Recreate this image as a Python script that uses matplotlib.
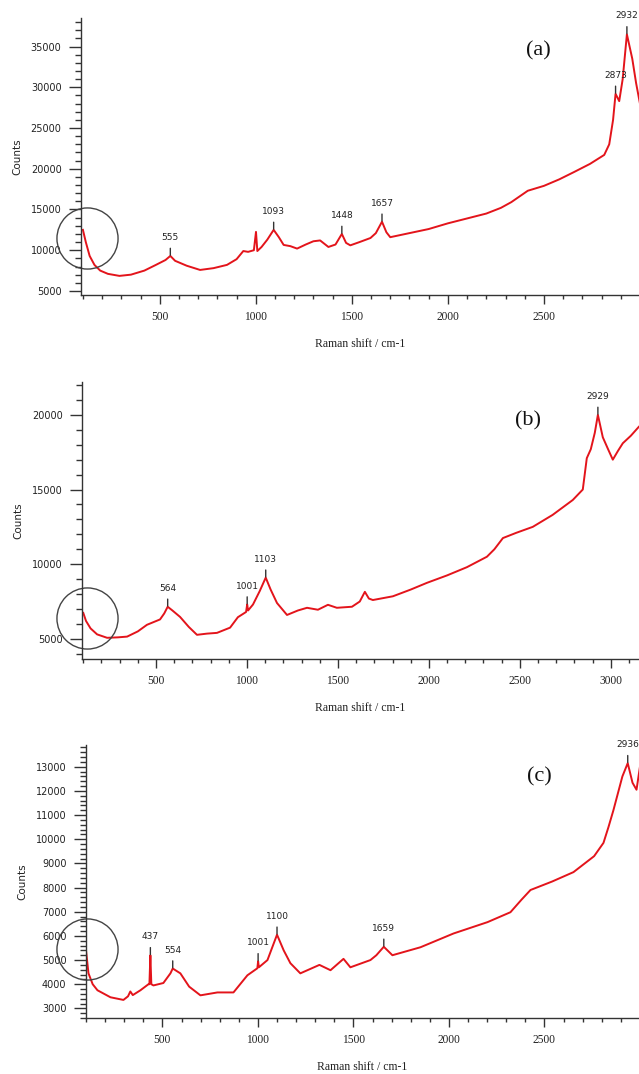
import numpy as np
import matplotlib
matplotlib.use("Agg")
import matplotlib.pyplot as plt
from matplotlib.ticker import MultipleLocator

# spectrum (a)
a_shift = [100, 115, 135, 160, 190, 230, 290, 350, 420, 480, 530, 555, 580, 640, 710,
           780, 850, 900, 935, 960, 990, 1001, 1008, 1030, 1060, 1093, 1120, 1145, 1180,
           1215, 1260, 1300, 1335, 1378, 1415, 1448, 1470, 1492, 1540, 1597, 1625, 1657,
           1680, 1700, 1800, 1900, 2000, 2100, 2200, 2276, 2330, 2416, 2500, 2580, 2657,
           2740, 2814, 2840, 2860, 2873, 2892, 2910, 2932, 2960, 2980, 3000]
a_counts = [12500, 11000, 9300, 8200, 7500, 7100, 6850, 7000, 7500, 8200, 8800, 9300, 8700,
            8100, 7580, 7800, 8200, 8900, 9900, 9800, 10000, 12250, 9900, 10400, 11300, 12500,
            11600, 10650, 10500, 10200, 10700, 11100, 11200, 10400, 10700, 12000, 10900, 10600,
            11000, 11500, 12100, 13500, 12200, 11600, 12100, 12600, 13300, 13900, 14500, 15200,
            15900, 17300, 17900, 18700, 19600, 20600, 21700, 23000, 26000, 29200, 28300, 31000,
            36500, 33500, 30500, 28000]
a_peaks = [555, 1093, 1448, 1657, 2873, 2932]

# spectrum (b)
b_shift = [100, 115, 140, 176, 231, 290, 341, 400, 450, 522, 545, 564, 590, 632, 680, 725,
           780, 835, 907, 950, 995, 1001, 1006, 1033, 1070, 1103, 1130, 1165, 1220, 1280,
           1330, 1390, 1445, 1494, 1577, 1620, 1648, 1670, 1692, 1802, 1900, 1989, 2100,
           2209, 2319, 2360, 2407, 2480, 2571, 2680, 2791, 2846, 2868, 2890, 2912, 2929,
           2956, 2985, 3011, 3040, 3066, 3110, 3154]
b_counts = [6740, 6200, 5700, 5300, 5070, 5100, 5150, 5500, 5940, 6300, 6700, 7150, 6900,
            6470, 5800, 5270, 5350, 5400, 5750, 6450, 6800, 7300, 6900, 7300, 8200, 9100,
            8300, 7400, 6600, 6900, 7080, 6950, 7280, 7080, 7150, 7500, 8150, 7700, 7600,
            7850, 8300, 8750, 9250, 9800, 10500, 11000, 11750, 12100, 12500, 13300, 14300,
            15000, 17100, 17700, 18800, 20000, 18500, 17700, 17000, 17600, 18100, 18600, 19200]
b_peaks = [564, 1001, 1103, 2929]

# spectrum (c)
c_shift = [100, 113, 135, 160, 228, 296, 320, 332, 345, 385, 427, 432, 437, 442, 453, 505,
           542, 554, 594, 640, 699, 788, 872, 945, 997, 1001, 1005, 1050, 1100, 1135, 1170,
           1222, 1322, 1380, 1448, 1484, 1589, 1620, 1659, 1704, 1851, 2024, 2202, 2322,
           2380, 2427, 2540, 2652, 2760, 2809, 2835, 2861, 2908, 2936, 2961, 2982, 3000]
c_counts = [5400, 4450, 4000, 3750, 3460, 3350, 3500, 3700, 3550, 3750, 4000, 4000, 5200,
            4000, 3950, 4050, 4450, 4650, 4450, 3900, 3540, 3660, 3660, 4370, 4660, 4950,
            4700, 5000, 6050, 5400, 4870, 4450, 4800, 4580, 5050, 4700, 5000, 5200, 5550,
            5200, 5530, 6100, 6570, 6980, 7500, 7900, 8250, 8640, 9300, 9850, 10500, 11200,
            12600, 13150, 12340, 12050, 13000]
c_peaks = [437, 554, 1001, 1100, 1659, 2936]

RED = "#e3141b"
INK = "#333333"

fig = plt.figure(figsize=(6.39, 10.74), dpi=100)

panels = [
    # shift, counts, peaks, tag, tag pos, rect, xlim, ylim, y major, y minor, circle centre
    (a_shift, a_counts, a_peaks, "(a)", (0.82, 0.88), [81/639, 0.7253, 1 - 81/639, 0.2579],
     (90, 2995), (4500, 38500), 5000, 1000, (119, 11500)),
    (b_shift, b_counts, b_peaks, "(b)", (0.80, 0.86), [82/639, 0.3864, 1 - 82/639, 0.2579],
     (93, 3155), (3650, 22200), 5000, 1000, (121, 6400)),
    (c_shift, c_counts, c_peaks, "(c)", (0.82, 0.885), [86/639, 0.0521, 1 - 86/639, 0.2542],
     (100, 2995), (2600, 13900), 1000, 200, (105, 5450)),
]

for shift, counts, peaks, tag, tpos, rect, xlim, ylim, ymaj, ymin, circ in panels:
    ax = fig.add_axes(rect)
    ax.plot(shift, counts, color=RED, lw=1.4)
    ax.set_xlim(*xlim)
    ax.set_ylim(*ylim)

    for s in ["top", "right"]:
        ax.spines[s].set_visible(False)
    for s in ["left", "bottom"]:
        ax.spines[s].set_color(INK)
        ax.spines[s].set_linewidth(1.0)

    ax.xaxis.set_major_locator(MultipleLocator(500))
    ax.xaxis.set_minor_locator(MultipleLocator(100))
    ax.yaxis.set_major_locator(MultipleLocator(ymaj))
    ax.yaxis.set_minor_locator(MultipleLocator(ymin))
    ax.tick_params(axis="x", which="major", length=6.5, width=1, color=INK,
                   pad=5, labelsize=7, labelcolor="#222222")
    ax.tick_params(axis="x", which="minor", length=3, width=1, color=INK)
    ax.tick_params(axis="y", which="major", length=9, width=1, color=INK,
                   pad=5, labelsize=7, labelcolor="#222222")
    ax.tick_params(axis="y", which="minor", length=4.5, width=1, color=INK)
    for lab in ax.get_xticklabels():
        lab.set_fontfamily("Liberation Serif")
        lab.set_fontsize(8.3)

    ax.set_xlabel("Raman shift / cm-1", family="Liberation Serif", fontsize=8.5,
                  color="#222222", labelpad=11)
    ax.set_ylabel("Counts", fontsize=7.5, color="#222222", labelpad=6)

    for p in peaks:
        yp = np.interp(p, shift, counts)
        ax.annotate(str(p), xy=(p, yp), xytext=(0, 10), textcoords="offset points",
                    ha="center", va="bottom", fontsize=6.5, color="#222222",
                    arrowprops=dict(arrowstyle="-", color=INK, lw=1,
                                    shrinkA=2.5, shrinkB=0.5))

    ax.text(tpos[0], tpos[1], tag, transform=ax.transAxes, family="Liberation Serif",
            fontsize=16, ha="center", va="center", color="#111111")

    ax.plot([circ[0]], [circ[1]], marker="o", ms=44, mfc="none", mec="#444444",
            mew=1.0, clip_on=False)

fig.savefig("out.png", dpi=100)
